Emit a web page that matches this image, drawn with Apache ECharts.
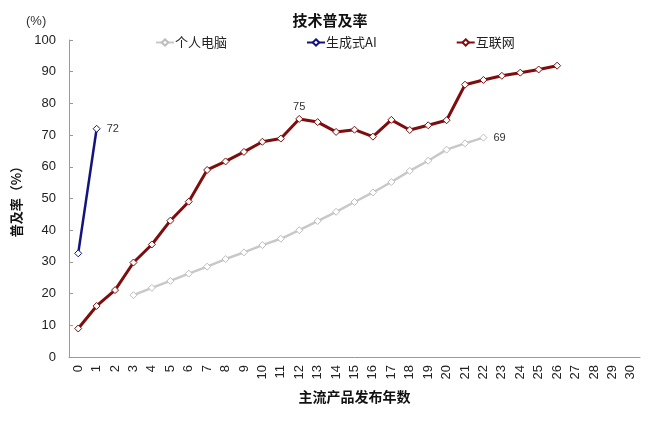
<!DOCTYPE html>
<html><head><meta charset="utf-8">
<script src="https://cdn.jsdelivr.net/npm/echarts@6/dist/echarts.min.js"></script>
<style>html,body{margin:0;padding:0;background:#fff}#c{width:660px;height:421px}</style>
</head><body><div id="c"></div>
<script>
const years = Array.from({length:31},(_,i)=>String(i));
const pc = [null,null,null,19.5,21.8,24.0,26.3,28.5,30.9,33.0,35.3,37.3,40.0,42.9,45.8,48.9,51.9,55.2,58.7,61.9,65.4,67.4,69.2];
const genAI = [32.7,72.0];
const internet = [9.0,16.1,21.1,29.8,35.5,43.0,49.0,59.0,61.7,64.7,67.9,68.9,75.1,74.1,71.0,71.7,69.5,74.8,71.6,73.1,74.7,85.9,87.4,88.7,89.7,90.7,91.9];
const yTicks = [0,10,20,30,40,50,60,70,80,90,100];
const labelPts = {pc:22, genAI:1, internet:12};
const labelText = {pc:'69', genAI:'72', internet:'75'};

const font = '"Liberation Sans", Arial, "Noto Sans CJK SC", sans-serif';
const cjk = '"Noto Sans CJK SC", sans-serif';
function lbl(idx, txt){
  return function(p){ return p.dataIndex===idx ? txt : ''; };
}
const chart = echarts.init(document.getElementById('c'), null, {renderer:'canvas'});
chart.setOption({
  animation:false,
  textStyle:{fontFamily:font},
  title:{text:'技术普及率', left:'center', top:8, textStyle:{fontSize:15, fontWeight:'bold', color:'#111', fontFamily:cjk}},
  graphic:[{type:'text', left:26, top:15, style:{text:'(%)', font:'13px '+font, fill:'#333'}}],
  legend:{top:31, left:150, itemGap:79, itemWidth:18, itemHeight:8,
    textStyle:{fontSize:13, color:'#222', fontFamily:cjk, padding:[0,0,0,-4]},
    data:['个人电脑','生成式AI','互联网']},
  grid:{left:69, right:20, top:40, bottom:64},
  xAxis:{type:'category', data:years, boundaryGap:true,
    name:'主流产品发布年数', nameLocation:'middle', nameGap:33,
    nameTextStyle:{fontSize:14, fontWeight:'bold', color:'#111', fontFamily:cjk},
    axisLine:{lineStyle:{color:'#9a9a9a'}},
    axisTick:{inside:true, length:4, lineStyle:{color:'#9a9a9a'}},
    axisLabel:{rotate:90, fontSize:13, color:'#222', margin:8, interval:0}},
  yAxis:{type:'value', min:yTicks[0], max:yTicks[yTicks.length-1], interval:10,
    name:'普及率（%）', nameLocation:'middle', nameGap:46, nameRotate:90,
    nameTextStyle:{fontSize:13, fontWeight:'bold', color:'#111', fontFamily:cjk},
    axisLine:{show:true, lineStyle:{color:'#9a9a9a'}},
    axisTick:{show:true, inside:true, length:4, lineStyle:{color:'#9a9a9a'}},
    splitLine:{show:false},
    axisLabel:{fontSize:13, color:'#222', margin:13}},
  series:[
    {name:'个人电脑', type:'line', data:pc, symbol:'diamond', symbolSize:7, connectNulls:false,
     lineStyle:{color:'#c8c8c8', width:2.5}, itemStyle:{color:'#fff', borderColor:'#bdbdbd', borderWidth:1},
     label:{show:true, position:'right', distance:6, fontSize:11, color:'#333', formatter:lbl(labelPts.pc,labelText.pc)}},
    {name:'生成式AI', type:'line', data:genAI, symbol:'diamond', symbolSize:7,
     lineStyle:{color:'#131380', width:2.5}, itemStyle:{color:'#fff', borderColor:'#131380', borderWidth:1},
     label:{show:true, position:'right', distance:6, fontSize:11, color:'#333', formatter:lbl(labelPts.genAI,labelText.genAI)}},
    {name:'互联网', type:'line', data:internet, symbol:'diamond', symbolSize:7,
     lineStyle:{color:'#7f0d0d', width:3}, itemStyle:{color:'#fff', borderColor:'#7f0d0d', borderWidth:1},
     label:{show:true, position:'top', distance:2, fontSize:11, color:'#333', formatter:lbl(labelPts.internet,labelText.internet)}}
  ]
});
</script></body></html>
